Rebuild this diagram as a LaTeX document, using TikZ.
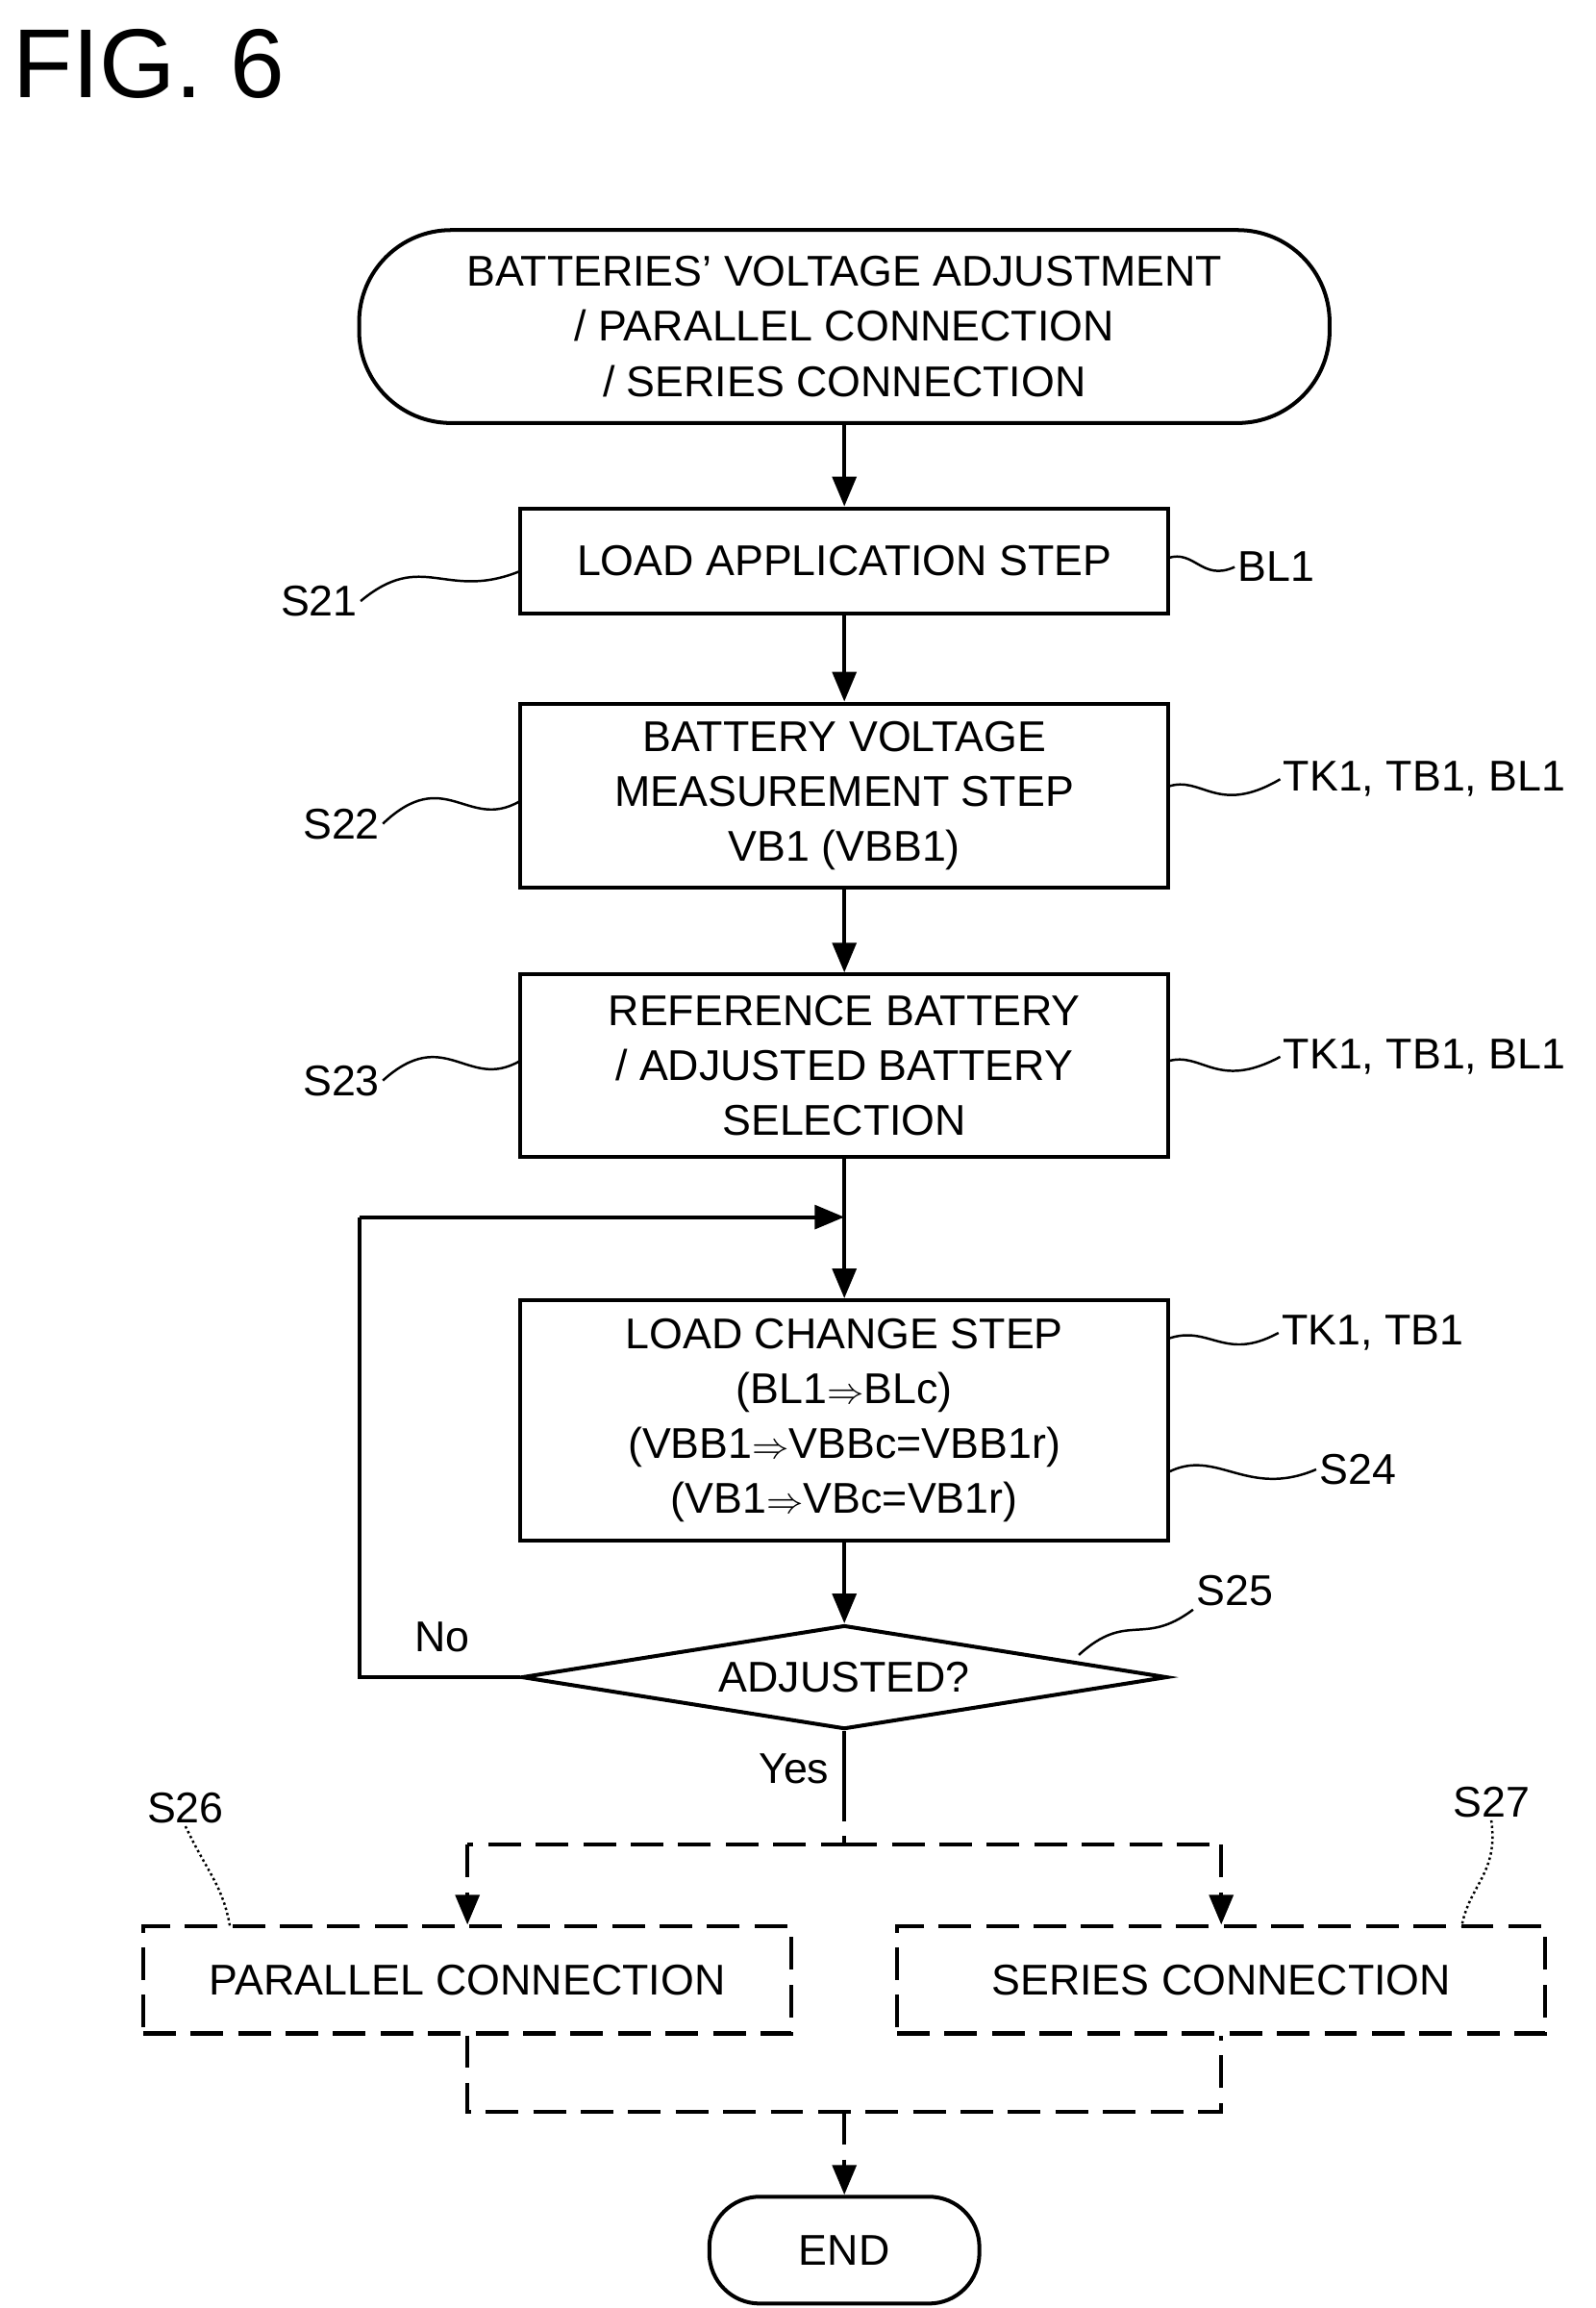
\documentclass[tikz,border=0pt]{standalone}
\usepackage{fontspec}
\setmainfont{Liberation Sans}
\usetikzlibrary{shapes.geometric,arrows.meta}
\begin{document}
\begin{tikzpicture}[x=1pt,y=-1pt,
  every node/.style={font=\fontsize{29}{37}\selectfont},
  box/.style={draw,line width=2.6pt,minimum width=437pt,align=center,inner sep=0pt},
  dbox/.style={box,dash pattern=on 22pt off 10pt},
  term/.style={draw,line width=2.6pt,rounded corners=45pt,align=center,inner sep=0pt},
  ln/.style={line width=2.6pt},
  arr/.style={ln,-{Triangle[length=20pt,width=16pt]}},
  dsh/.style={dash pattern=on 22pt off 10pt},
  wav/.style={line width=1.6pt},
  lab/.style={inner sep=2pt}]
\useasboundingbox (0,0) rectangle (1075,1555);
\node[anchor=west,font=\fontsize{66}{70}\selectfont] (fig) at (5,43) {FIG. 6};
\node[term,minimum width=654pt,minimum height=130pt,rounded corners=62pt] (start) at (569,220)
 {BATTERIES' VOLTAGE ADJUSTMENT\\/ PARALLEL CONNECTION\\/ SERIES CONNECTION};
\node[box,minimum height=71pt] (s21) at (569,378) {LOAD APPLICATION STEP};
\node[box,minimum height=124pt] (s22) at (569,536) {BATTERY VOLTAGE\\MEASUREMENT STEP\\VB1 (VBB1)};
\node[box,minimum height=123pt] (s23) at (569,718) {REFERENCE BATTERY\\/ ADJUSTED BATTERY\\SELECTION};
\node[box,minimum height=162pt] (s24) at (569,957) {LOAD CHANGE STEP\\(BL1$\Rightarrow$BLc)\\(VBB1$\Rightarrow$VBBc=VBB1r)\\(VB1$\Rightarrow$VBc=VB1r)};
\node[draw,diamond,line width=2.6pt,minimum width=435pt,minimum height=70pt,shape aspect=6.2,inner sep=0pt] (s25) at (569,1130) {ADJUSTED?};
\node[dbox,minimum height=72pt] (s26) at (315,1334) {PARALLEL CONNECTION};
\node[dbox,minimum height=72pt] (s27) at (823,1334) {SERIES CONNECTION};
\node[term,minimum width=182pt,minimum height=72pt,rounded corners=34pt] (end) at (569,1516) {END};
\coordinate (m) at (569,820);
\coordinate (lc) at (242,820);
\coordinate (lb) at (242,1130);
\coordinate (yj) at (569,1243);
\coordinate (ya) at (315,1243);
\coordinate (yb) at (823,1243);
\coordinate (ja) at (315,1423);
\coordinate (jb) at (823,1423);
\coordinate (jm) at (569,1423);
\draw[arr] (start) -- (s21);
\draw[arr] (s21) -- (s22);
\draw[arr] (s22) -- (s23);
\draw[ln] (s23) -- (m);
\draw[arr] (m) -- (s24);
\draw[arr] (s24) -- (s25.north);
\draw[ln] (s25.west) -- (lb) -- (lc);
\draw[arr] (lc) -- (m);
\node[lab] (no) at (298,1103) {No};
\node[lab] (yes) at (535,1192) {Yes};
\draw[ln] (s25.south) -- (569,1205);
\draw[ln,dsh] (569,1205) -- (yj) -- (ya);
\draw[ln,dsh] (yj) -- (yb);
\draw[arr,dsh] (ya) -- (s26.north);
\draw[arr,dsh] (yb) -- (s27.north);
\draw[ln,dsh] (s26.south) -- (ja) -- (jb) -- (s27.south);
\draw[arr,dsh] (jm) -- (end.north);
% labels
\node[lab] (l21) at (215,405) {S21};
\draw[wav] (l21.east) .. controls (285,370) and (300,405) .. (350,385);
\node[lab] (b21) at (860,382) {BL1};
\draw[wav] (787,376) .. controls (805,370) and (810,392) .. (b21.west);
\node[lab] (l22) at (230,555) {S22};
\draw[wav] (l22.east) .. controls (300,515) and (315,560) .. (350,540);
\node[lab] (b22) at (960,525) {TK1, TB1, BL1};
\draw[wav] (787,530) .. controls (810,522) and (820,550) .. (b22.west);
\node[lab] (l23) at (230,728) {S23};
\draw[wav] (l23.east) .. controls (300,690) and (315,735) .. (350,715);
\node[lab] (b23) at (960,712) {TK1, TB1, BL1};
\draw[wav] (787,715) .. controls (810,708) and (820,735) .. (b23.west);
\node[lab] (b24) at (925,898) {TK1, TB1};
\draw[wav] (787,902) .. controls (815,892) and (825,918) .. (b24.west);
\node[lab] (l24) at (915,990) {S24};
\draw[wav] (787,992) .. controls (820,975) and (840,1010) .. (l24.west);
\node[lab] (l25) at (832,1072) {S25};
\draw[wav] (727,1115) .. controls (760,1085) and (770,1110) .. (l25.south west);
\node[lab] (l26) at (125,1218) {S26};
\draw[wav,dotted] (l26.south) .. controls (140,1262) and (150,1270) .. (155,1298);
\node[lab] (l27) at (1005,1214) {S27};
\draw[wav,dotted] (l27.south) .. controls (1010,1262) and (990,1270) .. (985,1298);
\end{tikzpicture}
\end{document}
